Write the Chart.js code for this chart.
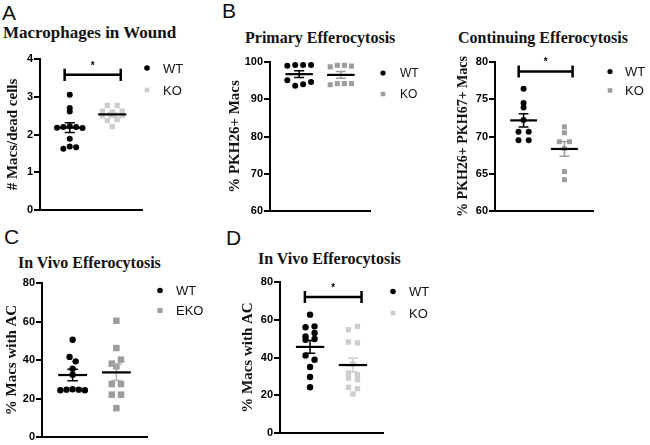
<!DOCTYPE html>
<html>
<head>
<meta charset="utf-8">
<script src="https://cdn.jsdelivr.net/npm/chart.js@4.4.0/dist/chart.umd.min.js"></script>
<style>
	body { margin: 0; background: #fff; width: 650px; height: 445px; position: relative; overflow: hidden; }
	.box { position: absolute; }
	.tag { position: absolute; font: 21px Arial, "Liberation Sans", sans-serif; line-height: 1; color: #111; }
	.ttl { position: absolute; font: bold 16px "Liberation Serif", "Times New Roman", serif; line-height: 1; color: #111; white-space: nowrap; }
</style>
</head>
<body>

<div class="tag" style="left:2px;top:2px">A</div>
<div class="tag" style="left:222px;top:0px">B</div>
<div class="tag" style="left:4px;top:226px">C</div>
<div class="tag" style="left:226px;top:227px">D</div>

<div class="ttl" style="left:3px;top:24px;font-size:17px">Macrophages in Wound</div>
<div class="ttl" style="left:245px;top:30px">Primary Efferocytosis</div>
<div class="ttl" style="left:458px;top:30px">Continuing Efferocytosis</div>
<div class="ttl" style="left:18px;top:255px">In Vivo Efferocytosis</div>
<div class="ttl" style="left:258px;top:251px">In Vivo Efferocytosis</div>

<div class="box" style="left:0;top:40px;width:215px;height:180px"><canvas id="cA"></canvas></div>
<div class="box" style="left:215px;top:40px;width:215px;height:180px"><canvas id="cB1"></canvas></div>
<div class="box" style="left:430px;top:40px;width:220px;height:180px"><canvas id="cB2"></canvas></div>
<div class="box" style="left:0;top:265px;width:215px;height:180px"><canvas id="cC"></canvas></div>
<div class="box" style="left:215px;top:265px;width:215px;height:180px"><canvas id="cD"></canvas></div>

<script>
// A - macrophages in wound (# macs / dead cells)
const aLabels = ['WT', 'KO'];
const aWT     = [3.05, 2.70, 2.61, 2.18, 2.20, 2.22, 2.20, 2.17, 1.89, 1.62, 1.68, 1.66];
const aKO     = [2.77, 2.77, 2.62, 2.60, 2.62, 2.50, 2.50, 2.50, 2.37, 2.40, 2.21];
const aTicks  = [0, 1, 2, 3, 4];

// B - primary efferocytosis (% PKH26+ macs)
const b1Labels = ['WT', 'KO'];
const b1WT     = [99.0, 99.2, 99.2, 99.2, 95.1, 93.6, 94.0, 94.6];
const b1KO     = [98.7, 99.1, 99.1, 98.9, 93.9, 94.2, 94.2, 94.2];
const b1Ticks  = [60, 70, 80, 90, 100];

// B - continuing efferocytosis (% PKH26+ PKH67+ macs)
const b2Labels = ['WT', 'KO'];
const b2WT     = [76.4, 74.5, 73.9, 72.2, 70.65, 70.65, 69.5, 69.5];
const b2KO     = [71.3, 70.5, 69.3, 69.3, 68.4, 65.3, 64.2];
const b2Ticks  = [60, 65, 70, 75, 80];

// C - in vivo efferocytosis, WT vs EKO
const cLabels = ['WT', 'EKO'];
const cWT     = [50.5, 41.6, 39.3, 35.5, 32.4, 24.3, 24.6, 24.8, 24.6, 24.3];
const cEKO    = [60.4, 46.2, 38.1, 40.2, 36.7, 27.5, 27.5, 22.0, 22.0, 15.0];
const cTicks  = [0, 20, 40, 60, 80];

// D - in vivo efferocytosis, WT vs KO
const dLabels = ['WT', 'KO'];
const dWT     = [62.7, 56.0, 56.5, 51.2, 53.0, 49.4, 49.8, 41.1, 38.8, 35.0, 29.7, 24.2];
const dKO     = [54.7, 56.5, 48.2, 47.7, 36.6, 31.8, 30.9, 29.1, 28.2, 24.2, 23.5, 20.7];
const dTicks  = [0, 20, 40, 60, 80];

// significance brackets: [y, from group, to group]
const aSig  = [3.58, 1, 2];
const b2Sig = [78.73, 1, 2];
const dSig  = [72.05, 1, 2];

const SERIF = '"Liberation Serif", "Times New Roman", serif';
const SANS  = 'Arial, "Liberation Sans", sans-serif';

function mean(v) { return v.reduce((a, b) => a + b, 0) / v.length; }
function sem(v) {
	var m = mean(v);
	var sd = Math.sqrt(v.reduce((a, b) => a + (b - m) * (b - m), 0) / (v.length - 1));
	return sd / Math.sqrt(v.length);
}

// prism-like column scatter: values close in y share a row and spread sideways
function swarm(vals, cx, tol, step) {
	var idx = vals.map((v, i) => i).sort((a, b) => vals[b] - vals[a]);
	var rows = [];
	idx.forEach(i => {
		var row = rows[rows.length - 1];
		if (row && vals[row[0]] - vals[i] <= tol) row.push(i);
		else rows.push([i]);
	});
	var pts = [];
	rows.forEach(row => {
		row.sort((a, b) => a - b);
		row.forEach((i, k) => pts.push({x: cx + (k - (row.length - 1) / 2) * step, y: vals[i]}));
	});
	return pts;
}

function makePanel(p) {
	var datasets = [];
	p.groups.forEach((g, gi) => {
		var cx = gi + 1;
		var m = mean(g.values), s = sem(g.values);
		datasets.push({
			type: 'scatter', label: p.labels[gi],
			data: swarm(g.values, cx, p.tol, g.step),
			pointStyle: g.shape, pointRadius: g.r, pointHoverRadius: g.r,
			backgroundColor: g.color, borderWidth: 0, clip: false, order: 2,
		});
		datasets.push({
			type: 'line', data: [{x: cx - 0.33, y: m}, {x: cx + 0.33, y: m}],
			borderColor: '#000', borderWidth: 2.2, pointRadius: 0, order: 1,
		});
		datasets.push({
			type: 'line',
			data: [
				{x: cx - 0.12, y: m + s}, {x: cx + 0.12, y: m + s}, {x: cx, y: null},
				{x: cx, y: m + s}, {x: cx, y: m - s}, {x: cx, y: null},
				{x: cx - 0.12, y: m - s}, {x: cx + 0.12, y: m - s},
			],
			borderColor: g.bar, borderWidth: 1.5, pointRadius: 0, spanGaps: false, order: 1,
		});
	});
	if (p.sig) {
		var y = p.sig[0], x0 = p.sig[1] - 0.12, x1 = p.sig[2] + 0.2, d = p.sigTick;
		datasets.push({
			type: 'line',
			data: [
				{x: x0, y: y + d}, {x: x0, y: y - d}, {x: x0, y: null},
				{x: x0, y: y}, {x: x1, y: y}, {x: x1, y: null},
				{x: x1, y: y + d}, {x: x1, y: y - d},
			],
			borderColor: '#000', borderWidth: 2.5, pointRadius: 0, spanGaps: false, order: 1,
		});
	}

	var extras = {
		id: 'extras',
		afterDraw(chart) {
			var ctx = chart.ctx, area = chart.chartArea;
			var xs = chart.scales.x, ys = chart.scales.y;
			ctx.save();
			if (p.sig) {
				var mx = xs.getPixelForValue((p.sig[1] - 0.12 + p.sig[2] + 0.2) / 2);
				ctx.fillStyle = '#000';
				ctx.font = 'bold 10px ' + SANS;
				ctx.textAlign = 'center';
				ctx.textBaseline = 'middle';
				ctx.fillText('*', mx, ys.getPixelForValue(p.sig[0]) - 9);
			}
			var L = p.legend;
			p.groups.forEach((g, gi) => {
				var ly = area.top + L.dy + gi * L.gap;
				ctx.fillStyle = g.color;
				Chart.helpers.drawPoint(ctx, {pointStyle: g.shape, radius: g.lr, rotation: 0, borderWidth: 0}, area.right + L.dx, ly);
				ctx.fillStyle = '#111';
				ctx.font = L.size + 'px ' + SANS;
				ctx.textAlign = 'left';
				ctx.textBaseline = 'middle';
				ctx.fillText(p.labels[gi], area.right + L.tx, ly + 1);
			});
			ctx.restore();
		}
	};

	return new Chart(document.getElementById(p.id), {
		type: 'scatter',
		data: {datasets: datasets},
		options: {
			responsive: true,
			maintainAspectRatio: false,
			animation: false,
			events: [],
			layout: {padding: p.pad},
			plugins: {legend: {display: false}, tooltip: {enabled: false}},
			scales: {
				x: {
					type: 'linear', min: 0.3, max: 2.7,
					ticks: {display: false},
					grid: {display: false, drawTicks: false},
					border: {display: true, width: 2, color: '#000'},
				},
				y: {
					type: 'linear', min: p.ticks[0], max: p.ticks[p.ticks.length - 1],
					afterBuildTicks: s => { s.ticks = p.ticks.map(v => ({value: v})); },
					afterFit: s => { s.width = p.axisW; },
					ticks: {color: '#000', padding: 1, font: {family: SANS, weight: 'bold', size: 11}},
					grid: {display: true, drawOnChartArea: false, drawTicks: true, tickLength: 6, lineWidth: 2, tickColor: '#000', color: '#000'},
					border: {display: true, width: 2, color: '#000'},
					title: {
						display: true, text: p.yTitle, color: '#111',
						font: {family: SERIF, weight: 'bold', size: p.yTitleSize},
						padding: {top: p.titlePad, bottom: 0},
					},
				},
			},
		},
		plugins: [extras],
	});
}

const LIGHT = '#cdcdcd', GREY = '#9c9c9c';

makePanel({
	id: 'cA', labels: aLabels, ticks: aTicks, yTitle: '# Macs/dead cells', yTitleSize: 15,
	axisW: 40, titlePad: 4, pad: {top: 19, right: 73, bottom: 10, left: 0}, tol: 0.08,
	groups: [
		{values: aWT, shape: 'circle', r: 3, lr: 2.8, color: '#000', bar: '#000', step: 0.15},
		{values: aKO, shape: 'rect', r: 3.8, lr: 3.3, color: LIGHT, bar: LIGHT, step: 0.23},
	],
	sig: aSig, sigTick: 0.16,
	legend: {dx: 5, tx: 21, dy: 9, gap: 22, size: 13},
});

makePanel({
	id: 'cB1', labels: b1Labels, ticks: b1Ticks, yTitle: '% PKH26+ Macs', yTitleSize: 15,
	axisW: 55, titlePad: 11, pad: {top: 22, right: 60, bottom: 9, left: 0}, tol: 1.6,
	groups: [
		{values: b1WT, shape: 'circle', r: 3, lr: 2.6, color: '#000', bar: '#000', step: 0.19},
		{values: b1KO, shape: 'rect', r: 3.6, lr: 3.2, color: GREY, bar: GREY, step: 0.17},
	],
	legend: {dx: 13, tx: 30, dy: 11, gap: 21, size: 12},
});

makePanel({
	id: 'cB2', labels: b2Labels, ticks: b2Ticks, yTitle: '% PKH26+ PKH67+ Macs', yTitleSize: 14,
	axisW: 65, titlePad: 25, pad: {top: 22, right: 57, bottom: 9, left: 0}, tol: 0.4,
	groups: [
		{values: b2WT, shape: 'circle', r: 3, lr: 2.6, color: '#000', bar: '#000', step: 0.25},
		{values: b2KO, shape: 'rect', r: 3.5, lr: 3.2, color: GREY, bar: GREY, step: 0.25},
	],
	sig: b2Sig, sigTick: 0.8,
	legend: {dx: 17, tx: 32, dy: 9.5, gap: 19, size: 13},
});

makePanel({
	id: 'cC', labels: cLabels, ticks: cTicks, yTitle: '% Macs with AC', yTitleSize: 15,
	axisW: 42, titlePad: 3, pad: {top: 18, right: 68, bottom: 8, left: 0}, tol: 3,
	groups: [
		{values: cWT, shape: 'circle', r: 3.2, lr: 2.8, color: '#000', bar: '#000', step: 0.14},
		{values: cEKO, shape: 'rect', r: 4.6, lr: 3.6, color: GREY, bar: '#b0b0b0', step: 0.21},
	],
	legend: {dx: 13, tx: 29, dy: 7.5, gap: 20, size: 13},
});

makePanel({
	id: 'cD', labels: dLabels, ticks: dTicks, yTitle: '% Macs with AC', yTitleSize: 15,
	axisW: 65, titlePad: 24, pad: {top: 17, right: 47, bottom: 12, left: 0}, tol: 2.5,
	groups: [
		{values: dWT, shape: 'circle', r: 3.2, lr: 2.8, color: '#000', bar: '#000', step: 0.21},
		{values: dKO, shape: 'rect', r: 3.8, lr: 3.3, color: LIGHT, bar: LIGHT, step: 0.21},
	],
	sig: dSig, sigTick: 3.2,
	legend: {dx: 10, tx: 26, dy: 9.5, gap: 21.5, size: 13},
});
</script>
</body>
</html>
